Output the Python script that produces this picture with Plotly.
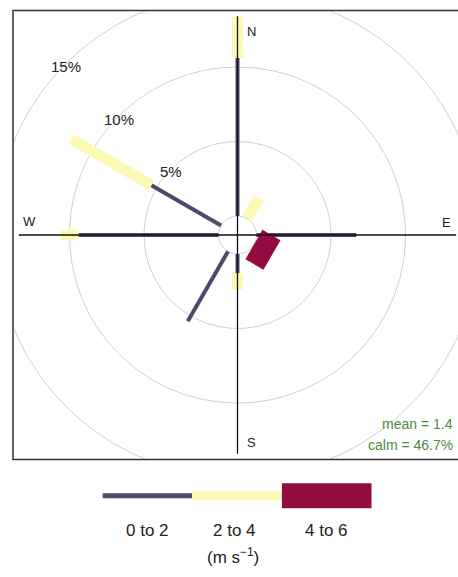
import numpy as np
import plotly.graph_objects as go

# Wind rose: frequency (%) of wind by direction, stacked by speed interval
directions = [0, 30, 60, 90, 120, 150, 180, 210, 240, 270, 300, 330]
speed_bins = ["0 to 2", "2 to 4", "4 to 6"]
freq_0_2 = [10.6, 0.0, 0.0, 6.7, 0.0, 0.0, 1.3, 5.4, 0.0, 9.4, 5.4, 0.0]
freq_2_4 = [2.8, 1.6, 0.0, 0.0, 0.0, 0.0, 1.1, 0.0, 0.0, 1.2, 6.2, 0.0]
freq_4_6 = [0.0, 0.0, 0.0, 0.0, 1.4, 0.0, 0.0, 0.0, 0.0, 0.0, 0.0, 0.0]
ring_levels = [5, 10, 15]
ring_labels = ["5%", "10%", "15%"]
compass = ["N", "E", "S", "W"]
mean_speed = 1.4
calm_pct = 46.7
units_label = "(m s<sup>\u22121</sup>)"

bin_colours = ["#4b4b6b", "#fcf9b6", "#920c42"]
bar_widths = [4, 11, 34]        # stroke width of each speed interval in the rose
legend_heights = [5, 9, 25]     # swatch height in the key

W, H = 458, 577
PX = 14.9                       # pixels per percent
CX, CY = 237.5, 235.0           # rose centre (page pixels)
offset = 19.0 / PX              # radius of the calm circle, in % units
FONT = "Liberation Sans, Arial, sans-serif"

freqs = [freq_0_2, freq_2_4, freq_4_6]
theta = np.deg2rad(directions)

fig = go.Figure()

# grid circles (calm circle + percentage rings)
t = np.linspace(0, 2 * np.pi, 361)
for lev in [0] + ring_levels:
    r = offset + lev
    fig.add_trace(go.Scatter(x=r * np.sin(t), y=r * np.cos(t), mode="lines",
                             line=dict(color="#cfcfcf", width=1),
                             hoverinfo="skip", showlegend=False))

# stacked bars
base = np.zeros(len(directions))
for i, f in enumerate(freqs):
    f = np.array(f)
    xs, ys = [], []
    for k in range(len(directions)):
        if f[k] > 0:
            r0 = offset + base[k]
            r1 = r0 + f[k]
            xs += [r0 * np.sin(theta[k]), r1 * np.sin(theta[k]), None]
            ys += [r0 * np.cos(theta[k]), r1 * np.cos(theta[k]), None]
    fig.add_trace(go.Scatter(x=xs, y=ys, mode="lines",
                             line=dict(color=bin_colours[i], width=bar_widths[i]),
                             name=speed_bins[i], hoverinfo="skip", showlegend=False))
    base = base + f

# compass axes drawn to the largest total frequency
mymax = offset + base.max()
fig.add_trace(go.Scatter(x=[-mymax, mymax], y=[0, 0], mode="lines",
                         line=dict(color="#111111", width=1.3),
                         hoverinfo="skip", showlegend=False))
fig.add_trace(go.Scatter(x=[0, 0], y=[-mymax, mymax], mode="lines",
                         line=dict(color="#111111", width=1.3),
                         hoverinfo="skip", showlegend=False))

annotations = []
compass_pos = {"N": (0.066, 0.93), "E": (0.955, 0.055),
               "S": (0.066, -0.95), "W": (-0.95, 0.06)}
for lab in compass:
    fx, fy = compass_pos[lab]
    annotations.append(dict(x=fx * mymax, y=fy * mymax, xref="x", yref="y",
                            text=lab, showarrow=False,
                            xanchor="center", yanchor="middle",
                            font=dict(family=FONT, size=13, color="#222222")))

for lev, lab in zip(ring_levels, ring_labels):
    r = offset + lev
    a = np.deg2rad(315)
    annotations.append(dict(x=r * np.sin(a), y=r * np.cos(a), xref="x", yref="y",
                            text=lab, showarrow=False, yshift=-3,
                            xanchor="center", yanchor="middle",
                            font=dict(family=FONT, size=15, color="#222222")))


def px(x):
    return x / W


def py(y):
    return 1 - y / H


annotations.append(dict(x=px(455), y=py(424), xref="paper", yref="paper",
                        text=f"mean = {mean_speed}", showarrow=False,
                        xanchor="right", yanchor="middle",
                        font=dict(family=FONT, size=14, color="#4f8a3e")))
annotations.append(dict(x=px(455), y=py(445), xref="paper", yref="paper",
                        text=f"calm = {calm_pct}%", showarrow=False,
                        xanchor="right", yanchor="middle",
                        font=dict(family=FONT, size=14, color="#4f8a3e")))

# colour key below the panel
shapes = []
key_left, key_len, key_y = 102.7, 89.6, 495.7
label_x = [147, 234, 326]
for i, lab in enumerate(speed_bins):
    x0 = key_left + i * key_len
    h = legend_heights[i]
    shapes.append(dict(type="rect", xref="paper", yref="paper",
                       x0=px(x0), x1=px(x0 + key_len),
                       y0=py(key_y + h / 2), y1=py(key_y - h / 2),
                       fillcolor=bin_colours[i], line=dict(width=0)))
    annotations.append(dict(x=px(label_x[i]), y=py(530), xref="paper", yref="paper",
                            text=lab, showarrow=False,
                            xanchor="center", yanchor="middle",
                            font=dict(family=FONT, size=17, color="#222222")))
annotations.append(dict(x=px(233), y=py(556), xref="paper", yref="paper",
                        text=units_label, showarrow=False,
                        xanchor="center", yanchor="middle",
                        font=dict(family=FONT, size=17, color="#222222")))

# panel frame
shapes.append(dict(type="rect", xref="paper", yref="paper",
                   x0=px(13), x1=1.05, y0=py(459.5), y1=py(10.5),
                   line=dict(color="#333333", width=1.5), fillcolor="rgba(0,0,0,0)"))

axis_common = dict(showgrid=False, zeroline=False, showticklabels=False,
                   ticks="", showline=False, fixedrange=True)
fig.update_layout(
    width=W, height=H,
    margin=dict(l=0, r=0, t=0, b=0),
    paper_bgcolor="white", plot_bgcolor="white",
    xaxis=dict(domain=[px(13), 1],
               range=[-(CX - 13) / PX, (W - CX) / PX], **axis_common),
    yaxis=dict(domain=[py(459.5), py(10.5)],
               range=[-(459.5 - CY) / PX, (CY - 10.5) / PX], **axis_common),
    annotations=annotations,
    shapes=shapes,
    showlegend=False,
)

fig.write_html("out.html")
